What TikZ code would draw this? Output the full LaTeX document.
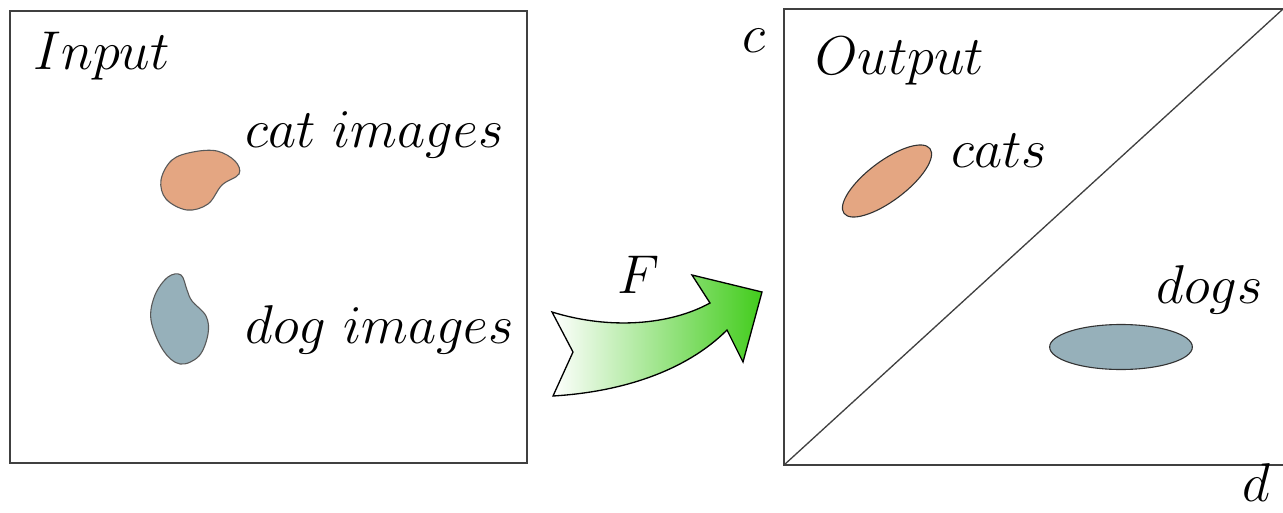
\documentclass[tikz,border=0pt]{standalone}
\usepackage{amsmath,amssymb}
\usetikzlibrary{positioning,shapes.geometric}
\definecolor{catfill}{RGB}{228,166,130}
\definecolor{dogfill}{RGB}{150,176,186}
\definecolor{arrowgreen}{RGB}{66,204,28}

\begin{document}
\begin{tikzpicture}[
  x=0.016cm, y=-0.016cm,
  panel/.style={draw=black!75, line width=0.8pt},
  lbl/.style={font=\fontsize{25.5}{30}\selectfont, inner sep=0pt, anchor=base west},
  blob/.style={draw=black!65, line width=0.5pt},
  cloud/.style={ellipse, draw=black!80, line width=0.5pt, inner sep=0pt}
  ]
  \useasboundingbox (0,0) rectangle (1283,512);

  % Input panel
  \draw[panel] (10,11) rectangle (527,463);
  \node[lbl] (inlabel) at (33,70) {$Input$};
  \draw[blob, fill=catfill] plot[smooth cycle, tension=0.6] coordinates
    {(161,180) (172,160) (193,152) (217,151) (235,161) (239,174) (222,185) (208,204) (187,210) (166,199)};
  \draw[blob, fill=dogfill] plot[smooth cycle, tension=0.6] coordinates
    {(168,277) (181,275) (187,290) (192,301) (206,316) (208,334) (199,356) (180,364) (163,350) (151,320) (155,295)};
  \node[lbl] (catlabel) at (245,148) {$cat\ images$};
  \node[lbl] (doglabel) at (245,343) {$dog\ images$};

  % Mapping F
  \path[draw=black, line width=0.6pt, left color=white, right color=arrowgreen]
    (552,312) .. controls (610,330) and (670,325) .. (710,303) -- (692,275) -- (762,292)
    -- (743,362) -- (727,330) .. controls (685,372) and (620,392) .. (553,396)
    -- (573,352) -- cycle;
  \node[lbl] (flabel) at (617,293) {$F$};

  % Output panel
  \draw[panel] (1283,9) -- (784,9) -- (784,465) -- (1283,465);
  \draw[panel, line width=0.6pt] (784,465) -- (1283,9);
  \node[lbl] (clabel) at (742,53) {$c$};
  \node[lbl] (dlabel) at (1242,501) {$d$};
  \node[lbl] (outlabel) at (815,75) {$Output$};
  \node[cloud, fill=catfill, minimum width=49pt, minimum height=18pt, rotate=37] (cats) at (887,181) {};
  \node[cloud, fill=dogfill, minimum width=65pt, minimum height=20.5pt] (dogs) at (1121,347) {};
  \node[lbl] (catslabel) at (951,167) {$cats$};
  \node[lbl] (dogslabel) at (1156,303) {$dogs$};
\end{tikzpicture}
\end{document}
